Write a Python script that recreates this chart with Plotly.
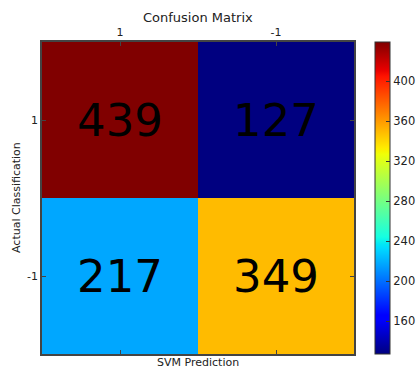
import numpy as np
import plotly.graph_objects as go

# Data
pred_labels = ["1", "-1"]
actual_labels = ["1", "-1"]
row_pos = [439, 127]
row_neg = [217, 349]
cbar_ticks = [160, 200, 240, 280, 320, 360, 400]

z = [row_pos, row_neg]

# matplotlib "jet" colormap
segs = {
    "r": [(0, 0), (0.35, 0), (0.66, 1), (0.89, 1), (1, 0.5)],
    "g": [(0, 0), (0.125, 0), (0.375, 1), (0.64, 1), (0.91, 0), (1, 0)],
    "b": [(0, 0.5), (0.11, 1), (0.34, 1), (0.65, 0), (1, 0)],
}
stops = sorted(set(p for s in segs.values() for p, _ in s))
jet = []
for s in stops:
    rgb = []
    for ch in "rgb":
        xs, ys = zip(*segs[ch])
        rgb.append(int(round(255 * np.interp(s, xs, ys))))
    jet.append([s, f"rgb({rgb[0]},{rgb[1]},{rgb[2]})"])

font = "DejaVu Sans"
tc = "#222222"

fig = go.Figure(go.Heatmap(
    z=z, x=pred_labels, y=actual_labels,
    colorscale=jet, zmin=min(map(min, z)), zmax=max(map(max, z)),
    text=z, texttemplate="%{text}",
    textfont=dict(size=45, color="black", family=font),
    xgap=0, ygap=0,
    colorbar=dict(
        x=(375 - 42) / 312, xanchor="left", xpad=0,
        y=0.5, yanchor="middle", len=1, lenmode="fraction", ypad=0,
        thickness=15, outlinewidth=1, outlinecolor="#333",
        tickvals=cbar_ticks, ticks="inside", ticklen=4, tickcolor="#333",
        tickfont=dict(size=11.5, color=tc, family=font),
    ),
))

fig.update_xaxes(side="top", automargin=False, showline=True, linecolor="#444", linewidth=1.5, mirror="ticks",
                 ticks="inside", ticklen=4, tickcolor="#444",
                 tickfont=dict(size=11, color=tc, family=font), showgrid=False, zeroline=False)
fig.update_yaxes(autorange="reversed", automargin=False, showline=True, linecolor="#444", linewidth=1.5, mirror="ticks",
                 ticks="inside", ticklen=4, tickcolor="#444",
                 tickfont=dict(size=11, color=tc, family=font), showgrid=False, zeroline=False)

fig.update_layout(
    width=416, height=368,
    margin=dict(l=42, r=62, t=42, b=14, autoexpand=False),
    paper_bgcolor="white", plot_bgcolor="white",
    font=dict(family=font, color=tc),
    annotations=[
        dict(text="Confusion Matrix", xref="paper", yref="paper", x=0.5, y=1,
             yshift=25, yanchor="middle", showarrow=False, font=dict(size=13, color=tc)),
        dict(text="SVM Prediction", xref="paper", yref="paper", x=0.5, y=0,
             yshift=-8, yanchor="middle", showarrow=False, font=dict(size=11, color=tc)),
        dict(text="Actual Classification", xref="paper", yref="paper", x=0, y=0.5,
             xshift=-26, xanchor="center", textangle=-90, showarrow=False, font=dict(size=11, color=tc)),
    ],
)

fig.write_html("out.html", config={"displayModeBar": False},
               post_script="document.body.style.margin='0';document.body.style.padding='0';")
